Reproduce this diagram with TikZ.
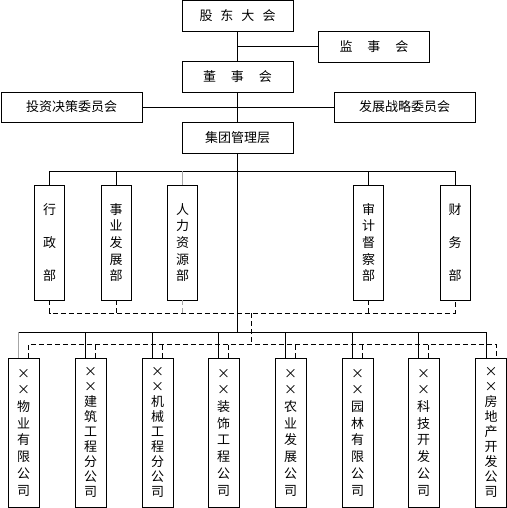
\documentclass[tikz,border=0pt]{standalone}
\usepackage{fontspec}
\setmainfont{Noto Sans CJK SC}
\usetikzlibrary{shadows}
\tikzset{
 box/.style={draw, line width=0.7pt, fill=white, inner sep=0pt,
   font=\fontsize{13}{16}\selectfont,
   drop shadow={shadow xshift=0.8pt, shadow yshift=-0.8pt, fill=black, opacity=1}},
 hbox/.style={box, minimum width=111pt, minimum height=31pt},
 wbox/.style={box, minimum width=141pt, minimum height=30pt},
 dept/.style={box, minimum width=30pt, minimum height=115pt, align=center, font=\fontsize{13}{16.7}\selectfont},
 comp/.style={box, minimum width=31pt, minimum height=149pt, align=center, font=\fontsize{13}{16.7}\selectfont},
 compn/.style={comp, font=\fontsize{13}{15}\selectfont},
 conn/.style={line width=0.6pt},
 gconn/.style={line width=0.6pt, gray!70},
 dconn/.style={line width=0.6pt, dash pattern=on 5pt off 3pt},
}
\begin{document}
\begin{tikzpicture}[x=1pt,y=-1pt]
\useasboundingbox (0,0) rectangle (506,508);
% top
\node[hbox] (gd) at (237.5,16) {股\hspace{8pt}东\hspace{8pt}大\hspace{8pt}会};
\node[hbox] (js) at (374,46.5) {监\hspace{15pt}事\hspace{15pt}会};
\node[hbox] (ds) at (237.5,76.5) {董\hspace{15pt}事\hspace{15pt}会};
\node[wbox] (tz) at (71.5,107) {投资决策委员会};
\node[wbox] (fz) at (404.5,107) {发展战略委员会};
\node[hbox] (jt) at (237.5,137.5) {集团管理层};
% departments
\node[dept] (d1) at (49.5,242.5) {行\\[16.7pt]政\\[16.7pt]部};
\node[dept] (d2) at (116,242.5) {事\\业\\发\\展\\部};
\node[dept] (d3) at (182.5,242.5) {人\\力\\资\\源\\部};
\node[dept] (d4) at (368.5,242.5) {审\\计\\督\\察\\部};
\node[dept] (d5) at (455,242.5) {财\\[16.7pt]务\\[16.7pt]部};
% companies
\node[comp] (c1) at (23.5,432.5) {×\\×\\物\\业\\有\\限\\公\\司};
\node[compn] (c2) at (90.5,432.5) {×\\×\\建\\筑\\工\\程\\分\\公\\司};
\node[compn] (c3) at (157.5,432.5) {×\\×\\机\\械\\工\\程\\分\\公\\司};
\node[comp] (c4) at (223.5,432.5) {×\\×\\装\\饰\\工\\程\\公\\司};
\node[comp] (c5) at (290.5,432.5) {×\\×\\农\\业\\发\\展\\公\\司};
\node[comp] (c6) at (357.5,432.5) {×\\×\\园\\林\\有\\限\\公\\司};
\node[comp] (c7) at (423.5,432.5) {×\\×\\科\\技\\开\\发\\公\\司};
\node[compn] (c8) at (491,432.5) {×\\×\\房\\地\\产\\开\\发\\公\\司};
% bus coordinates
\coordinate (dbus) at (0,171);
\coordinate (ddbus) at (0,313);
\coordinate (dv) at (251,313);
\coordinate (cbus) at (0,332);
\coordinate (cdbus) at (0,344);
% main spine
\draw[conn] (gd.south) -- (ds.north);
\draw[conn] (js.west) -- (js.west -| gd.south);
\draw[conn] (ds.south) -- (jt.north);
\draw[conn] (tz.east) -- (fz.west);
\draw[conn] (jt.south) -- (jt.south |- cbus);
% departments solid
\draw[conn] (d1.north) -- (d1.north |- dbus) -- (d5.north |- dbus) -- (d5.north);
\draw[conn] (d2.north) -- (d2.north |- dbus);
\draw[gconn] (d3.north) -- (d3.north |- dbus);
\draw[conn] (d4.north) -- (d4.north |- dbus);
% departments dashed
\draw[dconn] (d1.south) -- (d1.south |- ddbus) -- (d5.south |- ddbus) -- (d5.south);
\draw[dconn] (d2.south) -- (d2.south |- ddbus);
\draw[dconn, gray!70] (d3.south) -- (d3.south |- ddbus);
\draw[dconn] (d4.south) -- (d4.south |- ddbus);
\draw[dconn] (dv) -- (dv |- cdbus);
% companies solid
\draw[conn] ([xshift=-5pt]c1.north |- cbus) -- ([xshift=-5pt]c8.north |- cbus) -- ([xshift=-5pt]c8.north);
\draw[gconn] ([xshift=-5pt]c1.north) -- ([xshift=-5pt]c1.north |- cbus);
\foreach \c in {c2,c3,c4,c5,c6,c7}
  \draw[conn] ([xshift=-5pt]\c.north) -- ([xshift=-5pt]\c.north |- cbus);
% companies dashed
\draw[dconn] ([xshift=5pt]c1.north) -- ([xshift=5pt]c1.north |- cdbus) -- ([xshift=5pt]c8.north |- cdbus) -- ([xshift=5pt]c8.north);
\foreach \c in {c2,c3,c4,c5,c6,c7}
  \draw[dconn] ([xshift=5pt]\c.north) -- ([xshift=5pt]\c.north |- cdbus);
\end{tikzpicture}
\end{document}
